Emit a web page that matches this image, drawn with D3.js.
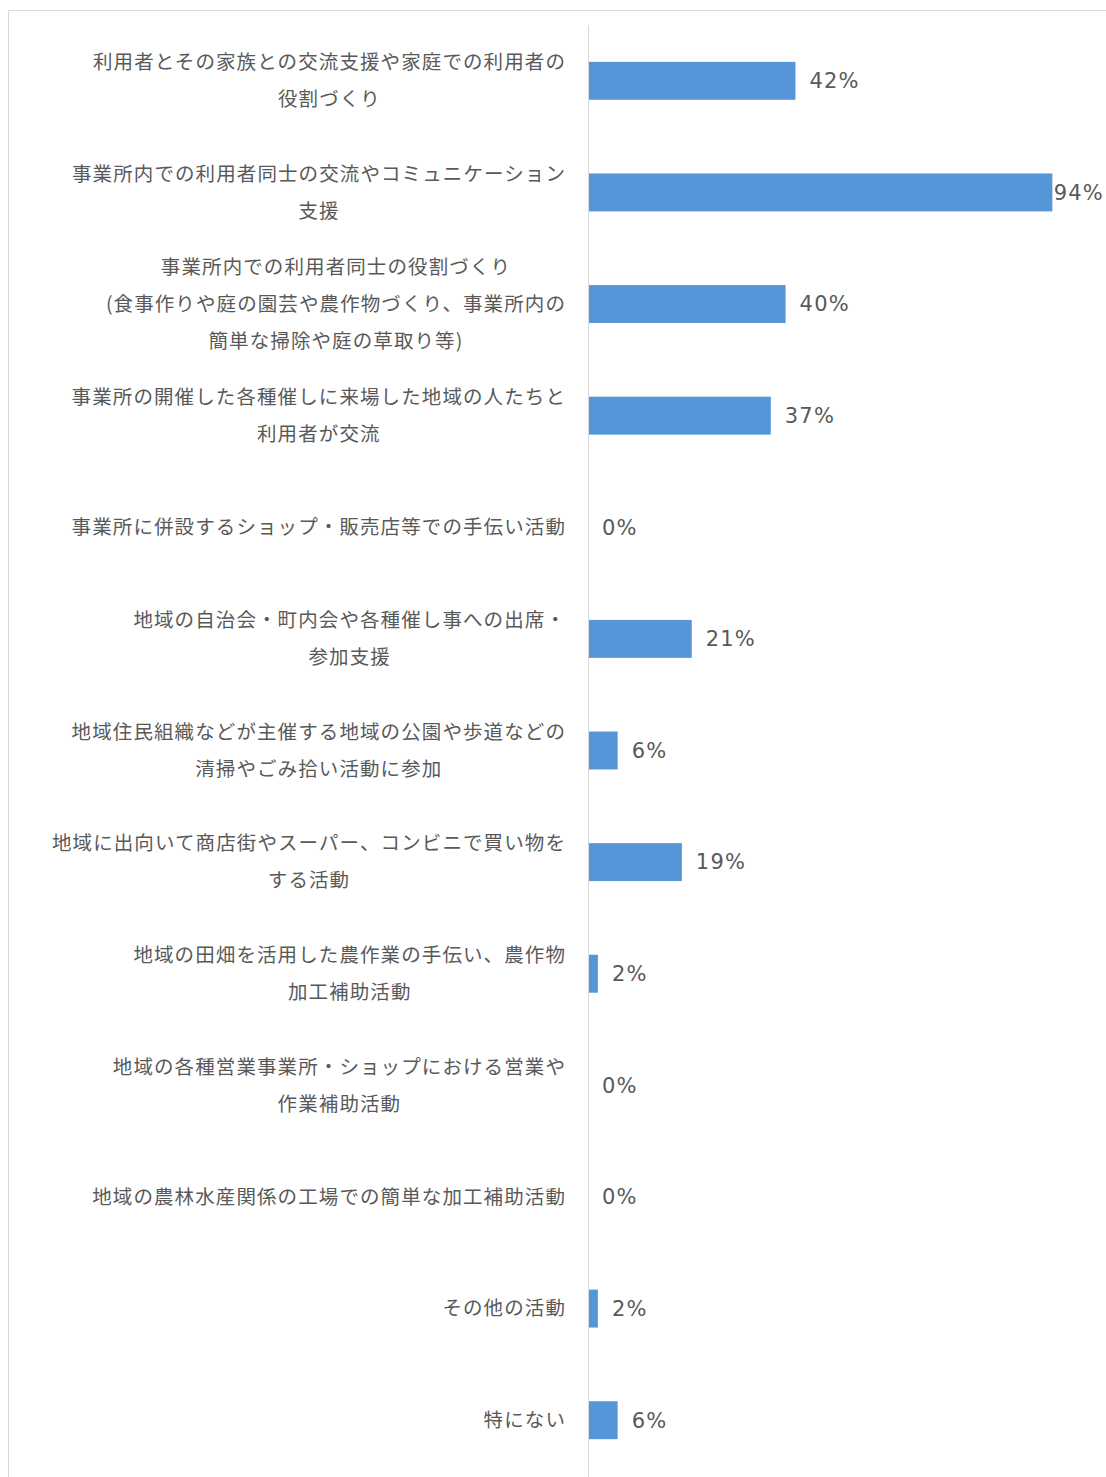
<!DOCTYPE html>
<html lang="ja">
<head>
<meta charset="utf-8">
<script src="https://cdn.jsdelivr.net/npm/d3@7"></script>
<style>
  html, body { margin: 0; padding: 0; background: #ffffff; }
  svg { display: block; }
</style>
</head>
<body>
<svg id="chart" width="1106" height="1477"></svg>
<script>
// Activity categories (each entry is split into its display lines)
const categories = [
  ["利用者とその家族との交流支援や家庭での利用者の", "役割づくり"],
  ["事業所内での利用者同士の交流やコミュニケーション", "支援"],
  ["事業所内での利用者同士の役割づくり", "(食事作りや庭の園芸や農作物づくり、事業所内の", "簡単な掃除や庭の草取り等)"],
  ["事業所の開催した各種催しに来場した地域の人たちと", "利用者が交流"],
  ["事業所に併設するショップ・販売店等での手伝い活動"],
  ["地域の自治会・町内会や各種催し事への出席・", "参加支援"],
  ["地域住民組織などが主催する地域の公園や歩道などの", "清掃やごみ拾い活動に参加"],
  ["地域に出向いて商店街やスーパー、コンビニで買い物を", "する活動"],
  ["地域の田畑を活用した農作業の手伝い、農作物", "加工補助活動"],
  ["地域の各種営業事業所・ショップにおける営業や", "作業補助活動"],
  ["地域の農林水産関係の工場での簡単な加工補助活動"],
  ["その他の活動"],
  ["特にない"]
];

// Share of respondents for each category (%)
const values = [42, 94, 40, 37, 0, 21, 6, 19, 2, 0, 0, 2, 6];

const svg = d3.select("#chart");
const W = 1106, H = 1477;

// Outer chart frame
svg.append("path")
  .attr("d", `M8.5,${H} V10.5 H${W}`)
  .attr("fill", "none")
  .attr("stroke", "#d9d9d9")
  .attr("stroke-width", 1);

const axisX = 588;
const x = d3.scaleLinear().domain([0, 100]).range([axisX, axisX + 494]);
const y = d3.scaleBand()
  .domain(d3.range(categories.length))
  .range([25, 1476])
  .paddingInner(0.66)
  .paddingOuter(0.33);

const fontCJK = "'Noto Sans CJK JP', 'Noto Sans', sans-serif";
const textColor = "#595959";

// Bars
svg.append("g")
  .selectAll("rect")
  .data(values)
  .join("rect")
  .attr("x", x(0))
  .attr("y", (d, i) => y(i))
  .attr("width", d => x(d) - x(0))
  .attr("height", y.bandwidth())
  .attr("fill", "#5596d8");

// Vertical category axis line
svg.append("line")
  .attr("x1", axisX + 0.5).attr("x2", axisX + 0.5)
  .attr("y1", 25).attr("y2", H)
  .attr("stroke", "#d9d9d9")
  .attr("stroke-width", 1);

// Category labels: centred lines, block right-aligned against the axis
const labelRight = 566;
const lineH = 37;
const labelG = svg.append("g")
  .attr("font-family", fontCJK)
  .attr("font-size", 19.5)
  .attr("letter-spacing", "1.1px")
  .attr("fill", textColor);

categories.forEach((lines, i) => {
  const cy = y(i) + y.bandwidth() / 2;
  const t = labelG.append("text").attr("text-anchor", "middle");
  const spans = lines.map((ln, k) =>
    t.append("tspan")
      .attr("y", cy + (k - (lines.length - 1) / 2) * lineH)
      .attr("dy", "0.35em")
      .text(ln)
  );
  const maxW = d3.max(spans, s => s.node().getComputedTextLength());
  spans.forEach(s => s.attr("x", labelRight - maxW / 2));
});

// Value labels, pulled back inside the frame when they would overflow
svg.append("g")
  .attr("font-family", "'DejaVu Sans', 'Noto Sans', sans-serif")
  .attr("font-size", 21)
  .attr("letter-spacing", "1.2px")
  .attr("fill", textColor)
  .selectAll("text")
  .data(values)
  .join("text")
  .attr("y", (d, i) => y(i) + y.bandwidth() / 2)
  .attr("dy", "0.35em")
  .text(d => d + "%")
  .attr("x", function (d) {
    const w = this.getComputedTextLength();
    return Math.min(x(d) + 14, W - w - 2);
  });
</script>
</body>
</html>
